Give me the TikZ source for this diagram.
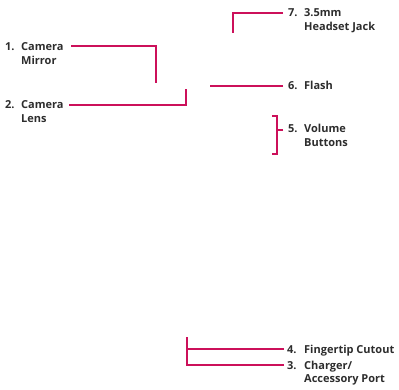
\documentclass[tikz,border=0pt]{standalone}
\usepackage{fontspec}
\setmainfont{Open Sans}
\definecolor{leader}{RGB}{204,16,90}
\definecolor{txt}{RGB}{45,45,45}
\begin{document}
\begin{tikzpicture}[x=1pt,y=-1pt,
  leaderline/.style={draw=leader,line width=1.4pt},
  callout/.style={anchor=base west,inner sep=0pt,text=txt,font=\bfseries\fontsize{11}{13.5}\selectfont}]
\useasboundingbox (0,0) rectangle (399,390);
% labels
\node[callout] (l1) at (5,51) {\begin{tabular}[t]{@{}p{16pt}@{}l@{}}1.&Camera\\&Mirror\end{tabular}};
\node[callout] (l2) at (5,109) {\begin{tabular}[t]{@{}p{16pt}@{}l@{}}2.&Camera\\&Lens\end{tabular}};
\node[callout] (l7) at (288,17) {\begin{tabular}[t]{@{}p{16pt}@{}l@{}}7.&3.5mm\\&Headset Jack\end{tabular}};
\node[callout] (l6) at (288,90) {\begin{tabular}[t]{@{}p{16pt}@{}l@{}}6.&Flash\end{tabular}};
\node[callout] (l5) at (288,133) {\begin{tabular}[t]{@{}p{16pt}@{}l@{}}5.&Volume\\&Buttons\end{tabular}};
\node[callout] (l4) at (287,353) {\begin{tabular}[t]{@{}p{17pt}@{}l@{}}4.&Fingertip Cutout\end{tabular}};
\node[callout] (l3) at (287,369) {\begin{tabular}[t]{@{}p{17pt}@{}l@{}}3.&Charger/\\&Accessory Port\end{tabular}};
% leader end points
\coordinate (s1) at (71,46);
\coordinate (e1) at (156,83);
\coordinate (s2) at (69,105);
\coordinate (e2) at (186,89);
\coordinate (s7) at (283,13);
\coordinate (e7) at (233,33);
\coordinate (s6) at (283,86);
\coordinate (e6) at (210,86);
\coordinate (s5) at (283,130);
\coordinate (b5t) at (272,116);
\coordinate (b5b) at (272,154);
\coordinate (s4) at (284,349);
\coordinate (s3) at (284,365);
\coordinate (e43t) at (187,337);
% leaders
\draw[leaderline] (s1) -| (e1);
\draw[leaderline] (s2) -| (e2);
\draw[leaderline] (s7) -| (e7);
\draw[leaderline] (s6) -- (e6);
\draw[leaderline] (b5t) -- ++(5,0) |- (b5b);
\draw[leaderline] (s5) -- ++(-6,0);
\draw[leaderline] (s4) -- (e43t |- s4);
\draw[leaderline] (s3) -| (e43t);
\end{tikzpicture}
\end{document}
